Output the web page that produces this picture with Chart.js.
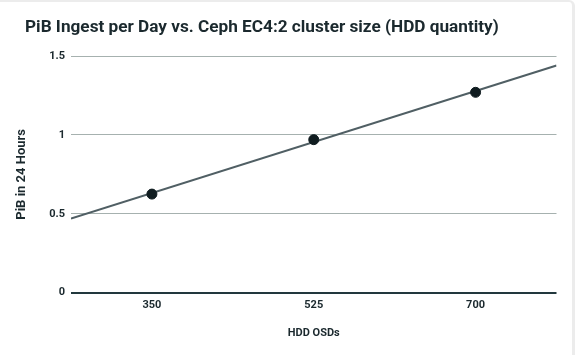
<!DOCTYPE html>
<html><head><meta charset="utf-8">
<script src="https://cdn.jsdelivr.net/npm/chart.js@4"></script>
<style>
html,body{margin:0;padding:0;background:#fff;}
#wrap{position:relative;width:575px;height:355px;}
canvas{display:block;}
#edge{position:absolute;left:0;top:0;width:575px;height:355px;border-top:2px solid #ececec;border-right:3px solid #ececec;border-top-right-radius:6px;box-sizing:border-box;pointer-events:none;}
</style>
</head><body>
<div id="wrap"><canvas id="c" width="575" height="355"></canvas><div id="edge"></div></div>
<script>
const titleText = 'PiB Ingest per Day vs. Ceph EC4:2 cluster size (HDD quantity)';
const xTitle = 'HDD OSDs';
const yTitle = 'PiB in 24 Hours';
const osdCounts = [350, 525, 700];
const pibPerDay = [0.625, 0.97, 1.27];
const xTicks = [350, 525, 700];
const yTicks = [0, 0.5, 1, 1.5];
const trendX = [262.5, 787.5];
const trendY = [0.47, 1.44];

const ink = '#1b292e';
const points = osdCounts.map((x, i) => ({x: x, y: pibPerDay[i]}));
const trend = trendX.map((x, i) => ({x: x, y: trendY[i]}));

new Chart(document.getElementById('c'), {
  type: 'scatter',
  data: {
    datasets: [
      {data: points, backgroundColor: '#101c20', borderColor: '#101c20', pointRadius: 5, pointHoverRadius: 5},
      {type: 'line', data: trend, borderColor: '#505f64', borderWidth: 2, pointRadius: 0, fill: false, tension: 0}
    ]
  },
  options: {
    responsive: false,
    animation: false,
    layout: {padding: {left: 25, right: 18.5, top: 0, bottom: 0}},
    plugins: {
      legend: {display: false},
      tooltip: {enabled: false},
      title: {
        display: true, text: titleText, align: 'start', color: ink,
        font: {family: 'Roboto', size: 17.2, weight: 'bold'},
        padding: {top: 17.7, bottom: 17.7}
      }
    },
    scales: {
      x: {
        type: 'linear', min: trendX[0], max: trendX[1],
        afterBuildTicks: s => { s.ticks = xTicks.map(v => ({value: v})); },
        afterFit: s => { s.height = 62.3; },
        grid: {display: false, drawTicks: false},
        border: {display: false},
        ticks: {color: ink, font: {family: 'Roboto', size: 11, weight: 'bold'}, padding: 6},
        title: {display: true, text: xTitle, color: ink, font: {family: 'Roboto', size: 11, weight: 'bold'}, padding: {top: 0, bottom: 15}}
      },
      y: {
        min: 0, max: 1.5,
        afterBuildTicks: s => { s.ticks = yTicks.map(v => ({value: v})); },
        afterFit: s => { s.width = 46; },
        grid: {
          drawTicks: false,
          color: c => (c.tick && c.tick.value === 0) ? '#22383d' : '#a6b1af',
          lineWidth: c => (c.tick && c.tick.value === 0) ? 2 : 1
        },
        border: {display: false},
        ticks: {color: ink, font: {family: 'Roboto', size: 11, weight: 'bold'}, padding: 6, callback: v => String(v)},
        title: {display: true, text: yTitle, color: ink, font: {family: 'Roboto', size: 13, weight: 'bold'}, padding: {top: -10.8, bottom: 0}}
      }
    }
  }
});
</script>
</body></html>
